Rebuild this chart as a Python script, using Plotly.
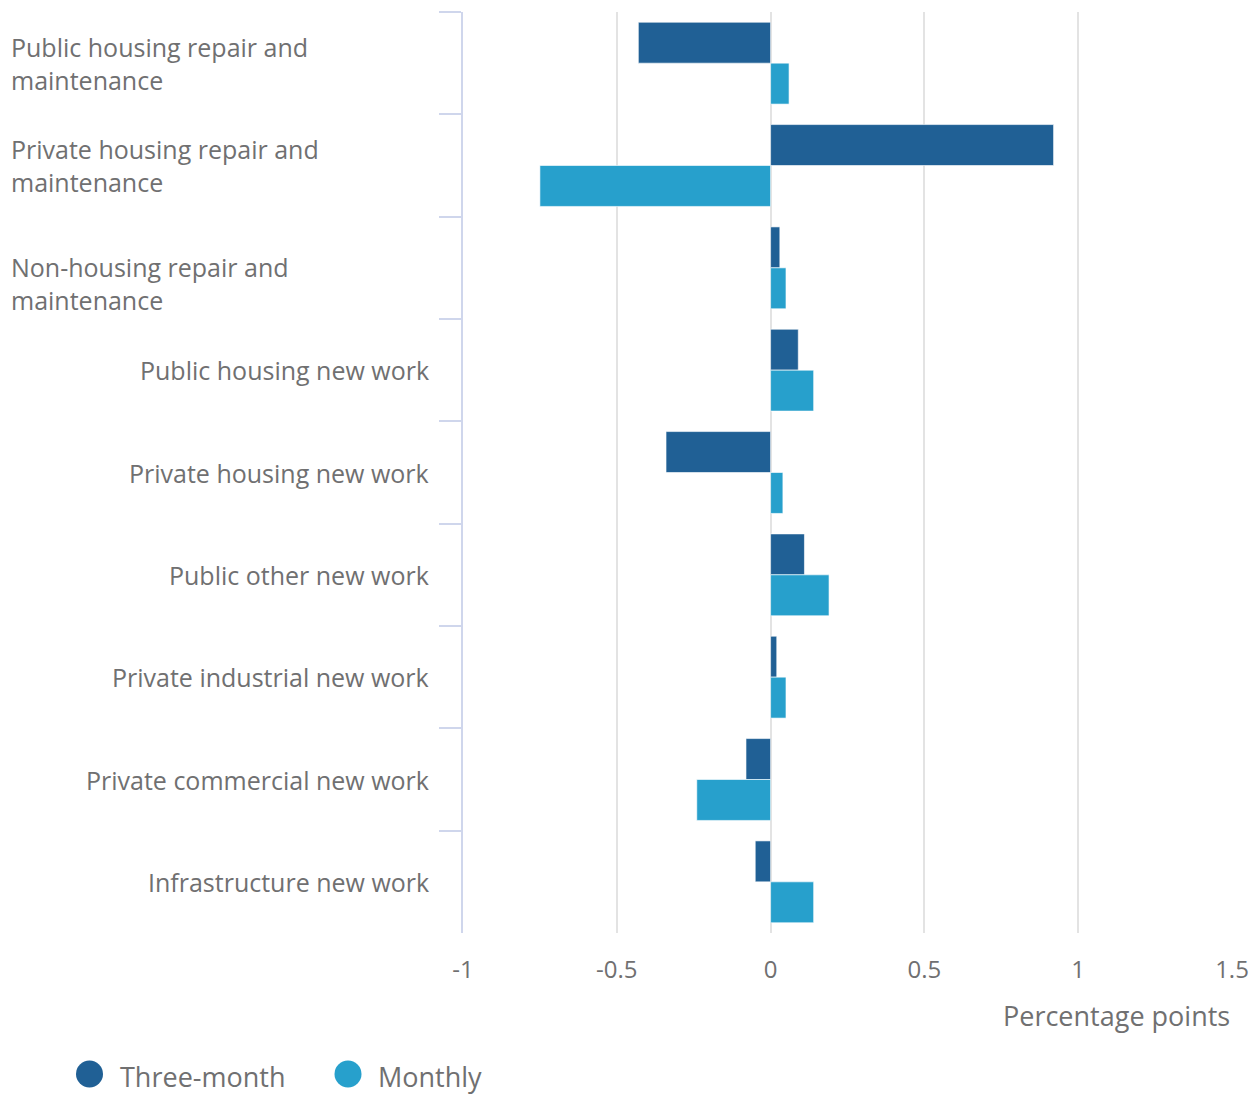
import plotly.graph_objects as go

categories = [
    "Public housing repair and<br>maintenance",
    "Private housing repair and<br>maintenance",
    "Non-housing repair and<br>maintenance",
    "Public housing new work",
    "Private housing new work",
    "Public other new work",
    "Private industrial new work",
    "Private commercial new work",
    "Infrastructure new work",
]
three_month = [-0.43, 0.92, 0.03, 0.09, -0.34, 0.11, 0.02, -0.08, -0.05]
monthly = [0.06, -0.75, 0.05, 0.14, 0.04, 0.19, 0.05, -0.24, 0.14]
x_ticks = [-1, -0.5, 0, 0.5, 1, 1.5]
x_tick_labels = ["-1", "-0.5", "0", "0.5", "1", "1.5"]

DARK = "#206095"
LIGHT = "#27a0cc"
TXT = "#707071"
FONT = "Open Sans"

OFF = 8  # page body margin
W, H = 1260 - OFF, 1095 - OFF
# plot area in page pixels
PL, PR, PT, PB = 463, 1232, 12, 933
L = PL - OFF
T = PT - OFF
R = W - (PR - OFF)
B = H - (PB - OFF)
pw, ph = PR - PL, PB - PT


def px_x(p):
    return (p - PL) / pw


def px_y(p):
    return (PB - p) / ph


label_shift = [0, 0, -16, 0, 0, 0, 0, 0, 0]

fig = go.Figure()
fig.add_trace(go.Bar(y=categories, x=three_month, orientation="h", name="Three-month",
                     marker=dict(color=DARK, line=dict(color="rgba(255,255,255,0.6)", width=1)),
                     showlegend=False))
fig.add_trace(go.Bar(y=categories, x=monthly, orientation="h", name="Monthly",
                     marker=dict(color=LIGHT, line=dict(color="rgba(255,255,255,0.6)", width=1)),
                     showlegend=False))

annotations = []
for cat, dy in zip(categories, label_shift):
    wrapped = "<br>" in cat
    annotations.append(dict(
        x=px_x(9) if wrapped else px_x(431), xref="paper", y=cat, yref="y", yshift=dy,
        text=cat, showarrow=False, xanchor="left" if wrapped else "right",
        align="left" if wrapped else "right", yanchor="middle",
        font=dict(family=FONT, size=25, color=TXT)))

annotations.append(dict(x=1, xref="paper", y=px_y(1015), yref="paper", text="Percentage points",
                        showarrow=False, xanchor="right", yanchor="middle",
                        font=dict(family=FONT, size=27, color=TXT)))

shapes = []
legend_items = [("Three-month", DARK, 89.5, 118), ("Monthly", LIGHT, 348, 376)]
for name, col, cx, tx in legend_items:
    shapes.append(dict(type="circle", xref="paper", yref="paper", xsizemode="pixel", ysizemode="pixel",
                       xanchor=px_x(cx), yanchor=px_y(1074), x0=-13.5, x1=13.5, y0=-13.5, y1=13.5,
                       fillcolor=col, line=dict(width=0)))
    annotations.append(dict(x=px_x(tx), xref="paper", y=px_y(1076), yref="paper", text=name,
                            showarrow=False, xanchor="left", yanchor="middle",
                            font=dict(family=FONT, size=27, color=TXT)))

fig.update_layout(
    width=W, height=H,
    margin=dict(l=L, r=R, t=T, b=B, pad=0),
    paper_bgcolor="white", plot_bgcolor="white",
    barmode="group", bargap=0.2, bargroupgap=0,
    font=dict(family=FONT, color=TXT),
    annotations=annotations, shapes=shapes,
    showlegend=False,
)
fig.update_xaxes(range=[-1, 1.5], tickvals=x_ticks, ticktext=x_tick_labels,
                 showgrid=True, gridcolor="#e3e3e3", gridwidth=2, zeroline=False,
                 ticks="outside", ticklen=15, tickcolor="rgba(0,0,0,0)",
                 tickfont=dict(family=FONT, size=24, color=TXT), showline=False)
fig.update_yaxes(autorange="reversed", showticklabels=False, tickson="boundaries",
                 ticks="outside", ticklen=22, tickwidth=2, tickcolor="#cfd6ec",
                 showline=True, linecolor="#cfd6ec", linewidth=2, showgrid=False)

fig.write_html("out.html")
